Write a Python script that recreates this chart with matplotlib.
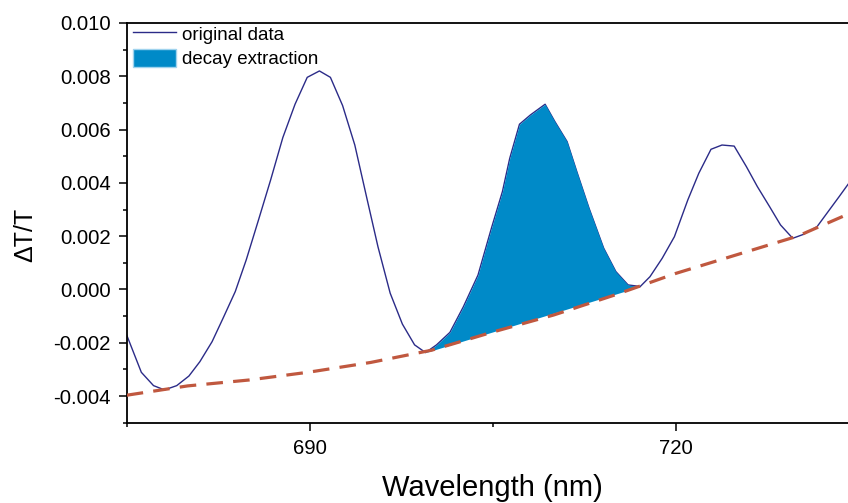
import numpy as np
import matplotlib
matplotlib.use("Agg")
import matplotlib.pyplot as plt
from matplotlib.ticker import MultipleLocator, FormatStrFormatter
from matplotlib.patches import Patch
from matplotlib.lines import Line2D

plt.rcParams['font.family'] = ['Liberation Sans', 'DejaVu Sans']
plt.rcParams['axes.unicode_minus'] = False

# transient transmission spectrum (wavelength in nm, dT/T in units of 1e-3)
wavelength = [675.0, 676.2, 677.2, 678.1, 679.1, 680.1, 681.0, 682.0, 682.9, 683.9,
              684.8, 685.8, 686.8, 687.8, 688.8, 689.8, 690.8, 691.7, 692.7, 693.7,
              694.7, 695.6, 696.6, 697.6, 698.6, 699.5, 700.4, 701.5, 702.6, 703.8,
              704.9, 705.8, 706.4, 707.2, 708.1, 709.3, 710.1, 711.1, 711.9, 712.9,
              714.1, 715.1, 716.1, 717.1, 717.9, 718.9, 719.9, 721.0, 721.9, 722.9,
              723.8, 724.8, 725.8, 726.7, 727.7, 728.6, 729.6, 730.5, 731.6, 732.5,
              733.4, 734.3, 735.2]
signal = [-1.71, -3.11, -3.61, -3.77, -3.61, -3.25, -2.71, -1.96, -1.08, -0.08,
          1.11, 2.60, 4.11, 5.70, 6.95, 7.96, 8.20, 7.96, 6.90, 5.42,
          3.40, 1.60, -0.14, -1.30, -2.08, -2.37, -2.08, -1.61, -0.65, 0.54,
          2.30, 3.67, 4.92, 6.20, 6.55, 6.95, 6.30, 5.55, 4.42, 3.05,
          1.55, 0.67, 0.17, 0.11, 0.48, 1.17, 1.98, 3.36, 4.36, 5.26,
          5.42, 5.38, 4.61, 3.86, 3.11, 2.42, 1.92, 2.07, 2.36, 2.92,
          3.48, 4.05, 4.50]

# fitted decay background
base_wl = [675, 680, 685, 690, 695, 700, 705, 710, 715, 720, 725, 730, 735]
base_val = [-3.97, -3.62, -3.40, -3.10, -2.74, -2.28, -1.60, -0.96, -0.21, 0.60, 1.30, 2.00, 3.00]

# extraction window: between the two minima around the middle peak
win_start, win_end = 699.5, 717.1

x = np.array(wavelength)
y = np.array(signal) * 1e-3
bx = np.array(base_wl)
by = np.array(base_val) * 1e-3

line_color = "#2b2b88"
fill_color = "#008ac8"
base_color = "#c0583f"

fig = plt.figure(figsize=(8.48, 5.03), dpi=100)
ax = fig.add_axes([0.1494, 0.1597, 0.8631, 0.7946])

ax.plot(x, y, color=line_color, lw=1.0, zorder=1)

mask = (x >= win_start) & (x <= win_end)
xf = x[mask]
yf = y[mask]
chord = np.interp(xf, [xf[0], xf[-1]], [yf[0], yf[-1]])
ax.fill_between(xf, chord, yf, color=fill_color, lw=0, zorder=2)

ax.plot(bx, by, color=base_color, lw=2.3, dashes=(5.2, 3.2), zorder=3)

ax.set_xlim(675, 735)
ax.set_ylim(-0.005, 0.010)

ax.xaxis.set_major_locator(MultipleLocator(30))
ax.xaxis.set_minor_locator(MultipleLocator(15))
ax.yaxis.set_major_locator(MultipleLocator(0.002))
ax.yaxis.set_minor_locator(MultipleLocator(0.001))
ax.yaxis.set_major_formatter(FormatStrFormatter('%.3f'))

ax.tick_params(which='major', direction='out', length=6, width=1.1,
               labelsize=14.7, pad=5.5)
ax.tick_params(which='minor', direction='out', length=3, width=1.1)
for sp in ax.spines.values():
    sp.set_linewidth(1.3)

ax.set_xlabel("Wavelength (nm)", fontsize=21, labelpad=12)
ax.set_ylabel("ΔT/T", fontsize=18)
ax.yaxis.set_label_coords(-0.1226, 0.47)

handles = [Line2D([], [], color=line_color, lw=1.0),
           Patch(facecolor=fill_color, edgecolor="#9fd3ee", lw=1.0)]
ax.legend(handles, ["original data", "decay extraction"], loc='upper left',
          bbox_to_anchor=(0.0, 1.012), frameon=False, fontsize=13.5,
          handlelength=2.3, handleheight=1.1, handletextpad=0.3,
          labelspacing=0.25, borderpad=0.0, borderaxespad=0.35)

fig.savefig("out.png", dpi=100)
